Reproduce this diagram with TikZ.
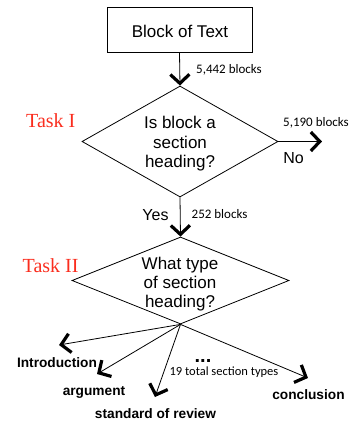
\documentclass[tikz,border=0pt]{standalone}
\usepackage{fontspec}
\setmainfont{Liberation Sans}
\newfontfamily\notefont{Carlito}
\newfontfamily\taskfont{Liberation Serif}
\usetikzlibrary{shapes.geometric,arrows.meta}
\definecolor{taskred}{RGB}{250,45,30}
\begin{document}
\begin{tikzpicture}[x=1pt,y=-1pt,
  shapeline/.style={draw, line width=0.8pt, inner sep=0pt},
  flow/.style={line width=0.8pt,
    -{Straight Barb[length=9pt,width=19pt,line width=3.2pt]}},
  txt/.style={inner sep=0pt, anchor=base},
  main/.style={txt, font=\fontsize{17}{20}\selectfont},
  note/.style={txt, anchor=base west, font=\notefont\fontsize{13}{15}\selectfont},
  answer/.style={txt, font=\fontsize{16}{19}\selectfont},
  kind/.style={txt, font=\bfseries\fontsize{13.7}{16}\selectfont},
  task/.style={txt, anchor=base west, text=taskred,
    font=\taskfont\fontsize{20}{24}\selectfont}]
\useasboundingbox (0,0) rectangle (354,424);

% input block and the two decisions
\node[shapeline, minimum width=145pt, minimum height=45pt] (src) at (179.5,29.5) {};
\node[main] (srctext) at (180,37) {Block of Text};
\node[shapeline, diamond, minimum width=196pt, minimum height=111pt] (q1) at (180,141.5) {};
\node[shapeline, diamond, minimum width=217pt, minimum height=87pt] (q2) at (180.5,280.5) {};

% question texts
\node[main] (q1a) at (180,128) {Is block a};
\node[main] (q1b) at (180,148) {section};
\node[main] (q1c) at (180,167.5) {heading?};
\node[main] (q2a) at (180,269) {What type};
\node[main] (q2b) at (180,288) {of section};
\node[main] (q2c) at (180,307) {heading?};

% task labels
\node[task] (t1) at (26,127) {Task I};
\node[task] (t2) at (22.5,272) {Task II};

% main flow
\coordinate (noend) at (322,141.5);
\draw[flow] (src.south) -- (q1.north);
\draw[flow] (q1.east) -- (noend);
\draw[flow] (q1.south) -- (q2.north);

\node[note] (n1) at (196,73) {5,442 blocks};
\node[note] (n2) at (283,126) {5,190 blocks};
\node[note] (n3) at (191.5,218) {252 blocks};
\node[answer] (no) at (293.5,163) {No};
\node[answer] (yes) at (155.5,220) {Yes};

% section types
\coordinate (e1) at (59,345);
\coordinate (e2) at (97,374);
\coordinate (e3) at (155,397);
\coordinate (e4) at (308,378);
\draw[flow] (q2.south) -- (e1);
\draw[flow] (q2.south) -- (e2);
\draw[flow] (q2.south) -- (e3);
\draw[flow] (q2.south) -- (e4);

\node[kind] (k1) at (57,367) {Introduction};
\node[kind] (k2) at (94,395) {argument};
\node[kind] (k3) at (155.5,418) {standard of review};
\node[kind] (k4) at (308.5,399) {conclusion};
\node[txt, font=\bfseries\fontsize{20}{22}\selectfont] (dots) at (203,362) {...};
\node[note, anchor=base, font=\notefont\fontsize{12.5}{14}\selectfont] (count) at (224,375.5) {19 total section types};
\end{tikzpicture}
\end{document}
